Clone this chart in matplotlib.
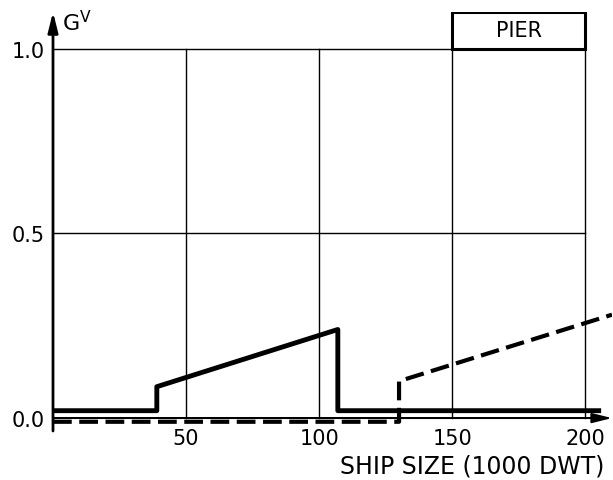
import matplotlib
matplotlib.use("Agg")
import matplotlib.pyplot as plt
from matplotlib.patches import Rectangle

# Data
solid_x = [0, 39, 39, 107, 107, 205]
solid_y = [0.02, 0.02, 0.085, 0.24, 0.02, 0.02]
dashed_x = [0, 130, 130, 210]
dashed_y = [-0.01, -0.01, 0.10, 0.28]
x_ticks = [50, 100, 150, 200]
x_tick_labels = ["50", "100", "150", "200"]
y_ticks = [0.0, 0.5, 1.0]
y_tick_labels = ["0.0", "0.5", "1.0"]
box_label = "PIER"
x_label = "SHIP SIZE (1000 DWT)"
y_label = "G$^{\\mathrm{V}}$"

plt.rcParams['font.family'] = ['DejaVu Sans']
plt.rcParams['mathtext.fontset'] = 'dejavusans'

fig = plt.figure(figsize=(6.13, 4.81), dpi=100)
ax = fig.add_axes([53/613, 1-432/481, 559/613, (432-13)/481])
ax.set_xlim(0, 210)
ax.set_ylim(-0.035, 1.1)
for s in ax.spines.values():
    s.set_visible(False)
ax.set_xticks(x_ticks)
ax.set_xticklabels(x_tick_labels, fontsize=15)
ax.set_yticks(y_ticks)
ax.set_yticklabels(y_tick_labels, fontsize=15)
ax.tick_params(axis='x', length=0, pad=-2)
ax.tick_params(axis='y', length=0, pad=6)

# grid
for xv in x_ticks:
    top = 1.1 if xv >= 150 else 1.0
    ax.plot([xv, xv], [0, top], color='black', lw=1.0, zorder=1)
for yv in [0.5, 1.0]:
    ax.plot([0, 200], [yv, yv], color='black', lw=1.0, zorder=1)
ax.plot([0, 205], [0, 0], color='black', lw=1.4, zorder=1)

# pier box
ax.add_patch(Rectangle((150, 1.0), 50, 0.1, fill=False, lw=2.2, edgecolor='black', zorder=3))
ax.text(175, 1.05, box_label, ha='center', va='center', fontsize=15)

# axes arrows
ax.annotate('', xy=(0, 1.1), xytext=(0, -0.035),
            arrowprops=dict(arrowstyle='-|>,head_length=1.2,head_width=0.3', lw=2, color='black', shrinkA=0, shrinkB=0),
            annotation_clip=False)
ax.annotate('', xy=(210, 0.0), xytext=(0, 0.0),
            arrowprops=dict(arrowstyle='-|>,head_length=1.2,head_width=0.3', lw=1.4, color='black', shrinkA=0, shrinkB=0),
            annotation_clip=False)

# series
ax.plot(solid_x, solid_y, color='black', lw=3.5, solid_joinstyle='round', zorder=4)
ln, = ax.plot(dashed_x, dashed_y, color='black', lw=3.0, zorder=4)
ln.set_dashes((4.5, 1.8))

ax.text(3.2, 1.075, y_label, fontsize=16, ha='left', va='center')
fig.text(604/613, 1-467/481, x_label, fontsize=17, ha='right', va='center')

fig.savefig('out.png', dpi=100)
